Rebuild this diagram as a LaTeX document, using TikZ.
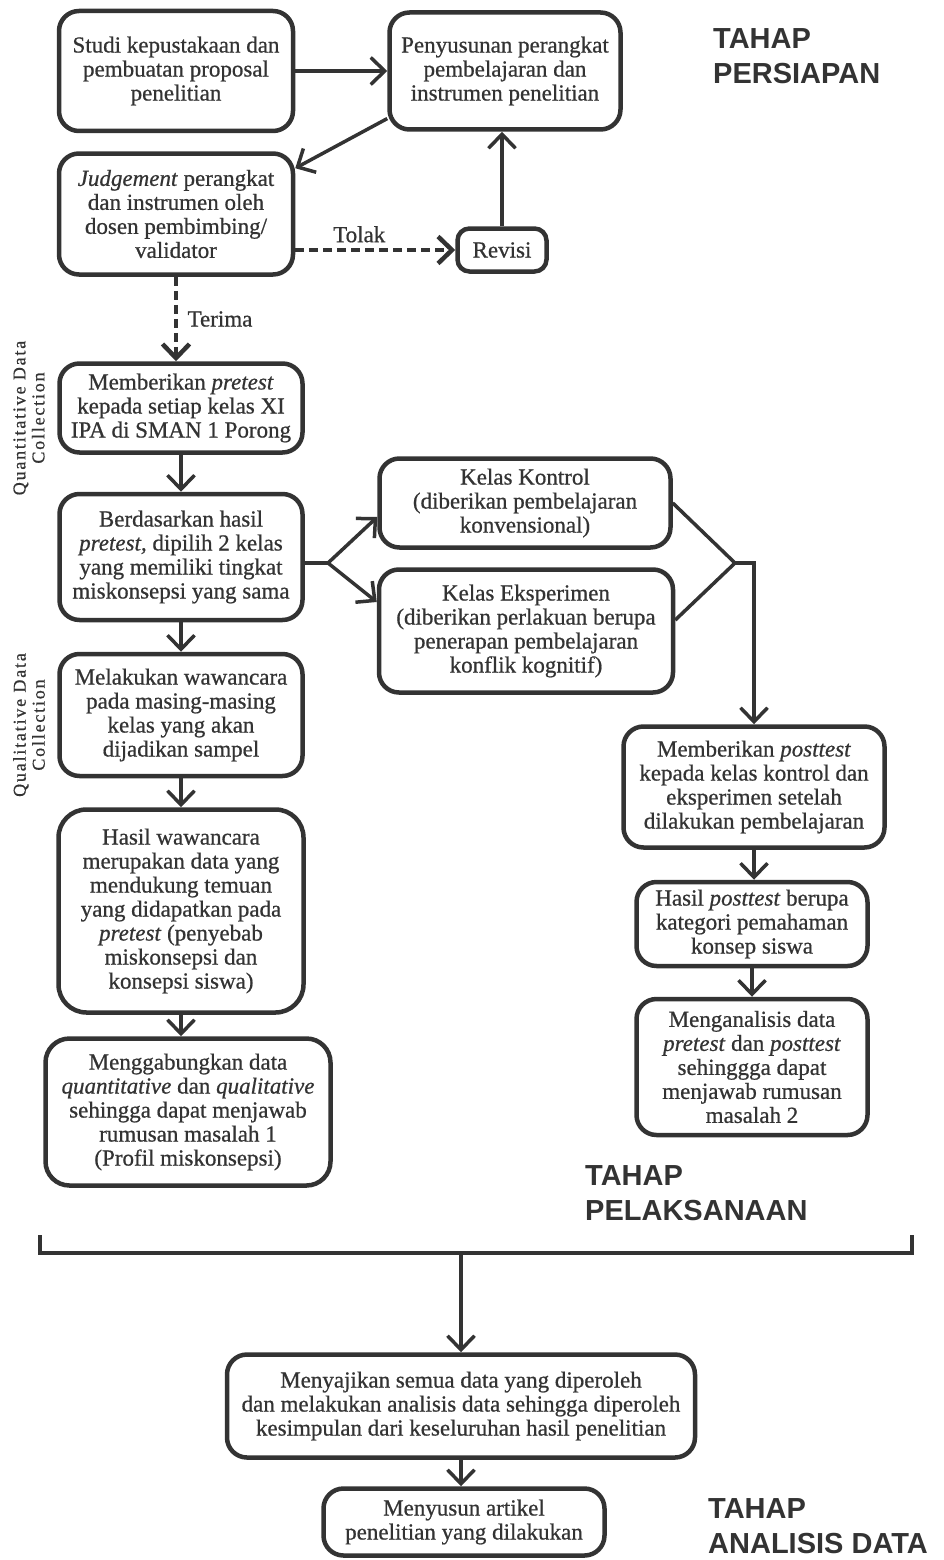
\documentclass[tikz,border=0pt]{standalone}
\usepackage{fontspec}
\setmainfont{Liberation Serif}
\newfontfamily\isifont{Liberation Serif}[FakeBold=0.7]
\newfontfamily\judulfont{Liberation Sans}
\usepackage{tikz}
\usetikzlibrary{arrows.meta, calc, positioning}
\definecolor{garis}{HTML}{333333}

\begin{document}
\begin{tikzpicture}[x=1pt, y=-1pt,
    kotak/.style={draw=garis, text=garis, line width=4.5pt, rounded corners=20pt, align=center, inner sep=2pt, font=\isifont\fontsize{23}{24}\selectfont},
    panah/.style={draw=garis, line width=3.5pt, -{Straight Barb[length=14pt, width=27pt]}},
    putus/.style={panah, line width=4.5pt, dash pattern=on 9pt off 5pt},
    garisan/.style={draw=garis, line width=3.5pt},
    label/.style={text=garis, font=\isifont\fontsize{23}{24}\selectfont},
    judul/.style={text=garis, align=left, anchor=west, inner sep=0pt, font=\judulfont\bfseries\fontsize{29}{35}\selectfont},
    samping/.style={text=garis, rotate=90, align=center, inner sep=0pt, font=\isifont\fontsize{18}{19}\selectfont\addfontfeature{LetterSpace=10}}]

    % Ukuran gambar
    \useasboundingbox (0,0) rectangle (944,1560);

    % Tahap persiapan
    \node[kotak, minimum width=234pt, minimum height=120pt] (studi) at (176,71) {Studi kepustakaan dan\\pembuatan proposal\\penelitian};
    \node[kotak, minimum width=231pt, minimum height=117pt] (susun) at (505,71) {Penyusunan perangkat\\pembelajaran dan\\instrumen penelitian};
    \node[kotak, minimum width=234pt, minimum height=121pt] (judge) at (176,214) {\textit{Judgement} perangkat\\dan instrumen oleh\\dosen pembimbing/\\validator};
    \node[kotak, minimum width=89pt, minimum height=43pt, rounded corners=12pt] (revisi) at (502,250) {Revisi};
    \node[judul] (persiapan) at (713,56) {TAHAP\\PERSIAPAN};

    \draw[panah] (studi) -- (susun);
    \draw[panah] (susun.202) -- (judge.21);
    \draw[putus] ([yshift=-36pt]judge.east) -- (revisi.west) node[label, pos=0.4, above=2pt] {Tolak};
    \draw[panah] (revisi.north) -- (revisi.north |- susun.south);

    % Tahap pelaksanaan - kiri
    \node[kotak, minimum width=243pt, minimum height=89pt] (pretest) at (181,408) {Memberikan \textit{pretest}\\kepada setiap kelas XI\\IPA di SMAN 1 Porong};
    \node[kotak, minimum width=243pt, minimum height=126pt] (pilih) at (181,557) {Berdasarkan hasil\\\textit{pretest,} dipilih 2 kelas\\yang memiliki tingkat\\miskonsepsi yang sama};
    \node[kotak, minimum width=243pt, minimum height=122pt] (wawancara) at (181,715) {Melakukan wawancara\\pada masing-masing\\kelas yang akan\\dijadikan sampel};
    \node[kotak, minimum width=245pt, minimum height=203pt, rounded corners=28pt] (hasilw) at (181,911) {Hasil wawancara\\merupakan data yang\\mendukung temuan\\yang didapatkan pada\\\textit{pretest} (penyebab\\miskonsepsi dan\\konsepsi siswa)};
    \node[kotak, minimum width=285pt, minimum height=147pt, rounded corners=24pt] (gabungdata) at (188,1112) {Menggabungkan data\\\textit{quantitative} dan \textit{qualitative}\\sehingga dapat menjawab\\rumusan masalah 1\\(Profil miskonsepsi)};

    \node[samping] (kuanti) at (29,418) {Quantitative Data\\Collection};
    \node[samping] (kuali) at (29,725) {Qualitative Data\\Collection};

    \draw[putus] (judge.south) -- (judge.south |- pretest.north) node[label, midway, right=6pt] {Terima};
    \draw[panah] (pretest) -- (pilih);
    \draw[panah] (pilih) -- (wawancara);
    \draw[panah] (wawancara) -- (hasilw);
    \draw[panah] (hasilw.south) -- (hasilw.south |- gabungdata.north);

    % Tahap pelaksanaan - kelas
    \node[kotak, minimum width=291pt, minimum height=89pt] (kontrol) at (525,503) {Kelas Kontrol\\(diberikan pembelajaran\\konvensional)};
    \node[kotak, minimum width=294pt, minimum height=123pt] (eksperimen) at (526,631) {Kelas Eksperimen\\(diberikan perlakuan berupa\\penerapan pembelajaran\\konflik kognitif)};

    \coordinate (pecah) at (328,563);
    \coordinate (temu) at (735,563);
    \draw[garisan] (pilih.east |- pecah) -- (pecah);
    \draw[panah] (pecah) -- ([yshift=-14pt]kontrol.west);
    \draw[panah] (pecah) -- ([yshift=29pt]eksperimen.west);

    % Tahap pelaksanaan - kanan
    \node[kotak, minimum width=261pt, minimum height=121pt] (posttest) at (754,787) {Memberikan \textit{posttest}\\kepada kelas kontrol dan\\eksperimen setelah\\dilakukan pembelajaran};
    \node[kotak, minimum width=231pt, minimum height=84pt] (hasilp) at (752,924) {Hasil \textit{posttest} berupa\\kategori pemahaman\\konsep siswa};
    \node[kotak, minimum width=231pt, minimum height=136pt] (analisis) at (752,1067) {Menganalisis data\\\textit{pretest} dan \textit{posttest}\\sehinggga dapat\\menjawab rumusan\\masalah 2};
    \node[judul] (pelaksanaan) at (585,1193) {TAHAP\\PELAKSANAAN};

    \draw[garisan] (kontrol.east) -- (temu);
    \draw[garisan] ([yshift=11pt]eksperimen.east) -- (temu);
    \draw[panah] (temu) -- (temu -| posttest.north) -- (posttest.north);
    \draw[panah] (posttest.south) -- (posttest.south |- hasilp.north);
    \draw[panah] (hasilp) -- (analisis);

    % Tahap analisis data
    \draw[garisan, line width=4pt] (40,1235) |- (912,1253) -- (912,1235);
    \coordinate (tengah) at (461,1253);

    \node[kotak, minimum width=468pt, minimum height=103pt] (sajikan) at (461,1406) {Menyajikan semua data yang diperoleh\\dan melakukan analisis data sehingga diperoleh\\kesimpulan dari keseluruhan hasil penelitian};
    \node[kotak, minimum width=281pt, minimum height=67pt] (artikel) at (464,1522) {Menyusun artikel\\penelitian yang dilakukan};
    \node[judul] (analisisdata) at (708,1526) {TAHAP\\ANALISIS DATA};

    \draw[panah] (tengah) -- (tengah |- sajikan.north);
    \draw[panah] (sajikan.south) -- (sajikan.south |- artikel.north);

\end{tikzpicture}
\end{document}
